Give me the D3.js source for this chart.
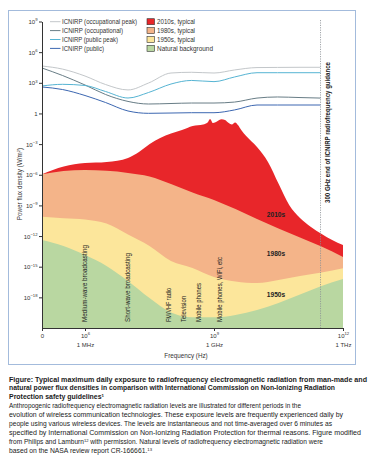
<!DOCTYPE html>
<html><head><meta charset="utf-8">
<script src="https://cdn.jsdelivr.net/npm/d3@7"></script>
<style>
html,body{margin:0;padding:0;background:#fff;}
svg{display:block;font-family:"Liberation Sans",Arial,sans-serif;}
</style></head><body>
<svg id="chart" width="369" height="466"></svg>
<script>
// ---------- data ----------
const icnirpFreq = [1e5,3e5,1e6,3e6,1e7,3e7,1e8,3e8,1e9,3e9,1e10,3e10,1e11,3e11];
const occPeak      = [4.4e4,2.2e4,4.6e3,680,200,950,9.1e3,1.07e4,9.1e3,1.8e4,3.1e4,3.2e4,3.3e4,3.3e4];
const occupational = [2.8e4,5.2e3,610,72,15,8.4,9.4,10.5,10.5,13,32,41,36,32];
const publicPeak   = [490,710,545,141,32.5,112,760,1.7e3,1.3e3,3.7e3,9.7e3,9.7e3,9.7e3,9.7e3];
const publicLimit  = [390,220,57,11.8,1.74,1.03,1.1,1.18,1.18,2.2,6.7,6.7,6.7,6.7];

const areaFreq = [1e5,3.16e5,1e6,3.16e6,1e7,3.16e7,1e8,3.16e8,1e9,3.16e9,1e10,3.16e10,1e11,3.16e11,1e12];
const typical1980s = [1.1e-6,2.3e-6,2.9e-6,2.4e-6,1.5e-6,6.7e-7,1.25e-7,1.8e-8,3.4e-9,4.4e-10,4.7e-11,5.5e-12,7.2e-13,9.5e-14,8.9e-15];
const typical1950s = [7.8e-11,5.6e-11,4.2e-11,1.7e-11,1.4e-12,1.06e-13,3.6e-15,7.5e-16,9.8e-17,3.6e-17,2.5e-17,5e-17,1.2e-16,2.7e-16,7e-16];
const naturalBg    = [4.1e-13,1.06e-13,1.4e-14,1.2e-15,4e-17,8.6e-19,3.3e-20,1.1e-20,1.1e-20,1.9e-20,5.8e-20,2.8e-19,1.9e-18,1.3e-17,6.2e-17];

const freq2010s = [1e5,3.2e5,1e6,3.2e6,1e7,1.8e7,3.2e7,5.6e7,1e8,1.8e8,3.2e8,5.6e8,7.1e8,8.1e8,9.5e8,1.17e9,1.5e9,1.8e9,2.2e9,2.6e9,3.1e9,3.6e9,4.3e9,5.6e9,1e10,1.8e10,3.2e10,5.6e10,1e11,1.8e11,3.2e11,5.6e11,1e12];
const typical2010s = [1.1e-6,6.4e-6,1.4e-5,1.8e-5,4.4e-5,1.7e-4,1.0e-3,4.0e-3,1.1e-2,2.4e-2,5.9e-2,8.3e-2,0.13,0.29,0.116,0.163,0.27,0.23,0.116,8.3e-2,0.13,7.4e-2,2.4e-2,6.2e-3,5.2e-4,1.8e-5,1.25e-7,1.1e-9,5.8e-11,7.7e-12,1.6e-12,4.1e-13,1.3e-13];

const yTicks = [1e9,1e6,1e3,1,1e-3,1e-6,1e-9,1e-12,1e-15,1e-18];
const xTicks = [1e5,1e6,1e9,1e12];
const xTickLabels = ["0","10|6","10|9","10|12"];
const xTickUnits = ["","1 MHz","1 GHz","1 THz"];
const guidanceFreq = 3e11;

const techLabels = ["Medium-wave broadcasting","Short-wave broadcasting","FM/VHF radio","Television","Mobile phones","Mobile phones, WiFi, etc"];
const techFreq = [1e6,1e7,9e7,2e8,4.5e8,1.4e9];

const lineSeries = [
  {name:"ICNIRP (occupational peak)", values:occPeak, color:"#c3c7ca"},
  {name:"ICNIRP (occupational)", values:occupational, color:"#687d86"},
  {name:"ICNIRP (public peak)", values:publicPeak, color:"#56b4d3"},
  {name:"ICNIRP (public)", values:publicLimit, color:"#3c67b1"}
];
const areaSeries = [
  {name:"2010s, typical", label:"2010s", freq:freq2010s, values:typical2010s, color:"#e8262a"},
  {name:"1980s, typical", label:"1980s", freq:areaFreq, values:typical1980s, color:"#f4b489"},
  {name:"1950s, typical", label:"1950s", freq:areaFreq, values:typical1950s, color:"#fce69b"},
  {name:"Natural background", label:null, freq:areaFreq, values:naturalBg, color:"#b9d7a1"}
];

// ---------- drawing ----------
const svg = d3.select("#chart");
svg.append("rect").attr("x",8.5).attr("y",10.5).attr("width",347).attr("height",354)
  .attr("fill","none").attr("stroke","#a3bbdc").attr("stroke-width",1);

const x = d3.scaleLog().domain([1e5,1e12]).range([42,343]);
const y = d3.scaleLog().domain([1e-21,1e9]).range([328,21.5]);
const y0 = y(1e-21);

// areas
areaSeries.forEach(s => {
  const pts = s.freq.map((f,i)=>[f,s.values[i]]);
  const area = d3.area().x(d=>x(d[0])).y0(y0).y1(d=>y(d[1])).curve(d3.curveMonotoneX);
  svg.append("path").datum(pts).attr("d",area).attr("fill",s.color);
});

// ICNIRP lines
lineSeries.forEach(s => {
  const pts = icnirpFreq.map((f,i)=>[f,s.values[i]]);
  const line = d3.line().x(d=>x(d[0])).y(d=>y(d[1])).curve(d3.curveMonotoneX);
  svg.append("path").datum(pts).attr("d",line).attr("fill","none").attr("stroke",s.color).attr("stroke-width",1);
});

// guidance line
svg.append("line").attr("x1",x(guidanceFreq)).attr("x2",x(guidanceFreq)).attr("y1",20).attr("y2",y0)
  .attr("stroke","#8a8f94").attr("stroke-width",0.8).attr("stroke-dasharray","1.2,1.2");
svg.append("text").attr("transform",`translate(${x(guidanceFreq)+9},203) rotate(-90)`)
  .attr("font-size",6.6).attr("font-weight","bold").attr("fill","#222")
  .attr("textLength",141).attr("lengthAdjust","spacingAndGlyphs")
  .text("300 GHz end of ICNIRP radiofrequency guidance");

// tech labels
const techLen = [77,69,34,26,39,65];
techLabels.forEach((t,i)=>{
  svg.append("text").attr("transform",`translate(${x(techFreq[i])+2.2},322) rotate(-90)`)
    .attr("font-size",6.3).attr("fill","#222")
    .attr("textLength",techLen[i]).attr("lengthAdjust","spacingAndGlyphs").text(t);
});

// era labels
const eraPos = [[276,217],[276,256],[276,297]];
areaSeries.forEach((s,i)=>{
  if(!s.label) return;
  svg.append("text").attr("x",eraPos[i][0]).attr("y",eraPos[i][1]).attr("text-anchor","middle")
    .attr("font-size",6.6).attr("font-weight","bold").attr("fill","#222").text(s.label);
});

// axes
const yAxis = d3.axisLeft(y).tickValues(yTicks).tickSize(3).tickSizeOuter(0).tickFormat(()=>"");
const gy = svg.append("g").attr("transform","translate(42,0)").call(yAxis);
gy.select(".domain").attr("stroke","#333");
gy.selectAll(".tick line").attr("stroke","#333");
gy.selectAll(".tick text").attr("font-size",6).attr("fill","#333").attr("x",-4.5).attr("dy","0.35em")
  .each(function(d){
    const t = d3.select(this);
    const e = Math.round(Math.log10(d));
    if(e===0){ t.text("1"); return; }
    t.append("tspan").text("10");
    t.append("tspan").attr("dy",-2.8).attr("font-size",4.2).text(String(e).replace("-","\u2212"));
  });

const xAxis = d3.axisBottom(x).tickValues(xTicks).tickSize(3).tickSizeOuter(0).tickFormat(()=>"");
const gx = svg.append("g").attr("transform",`translate(0,${y0})`).call(xAxis);
gx.select(".domain").attr("stroke","#333");
gx.selectAll(".tick line").attr("stroke","#333");
gx.selectAll(".tick text").attr("font-size",6).attr("fill","#333").attr("y",5.5).attr("dy","0.71em")
  .each(function(d,i){
    const t = d3.select(this);
    const parts = xTickLabels[i].split("|");
    t.append("tspan").text(parts[0]);
    if(parts[1]) t.append("tspan").attr("dy",-2.8).attr("font-size",4.2).text(parts[1]);
  });
gx.selectAll(".tick").append("text").attr("font-size",6).attr("fill","#333").attr("y",19).attr("text-anchor","middle")
  .text((d,i)=>xTickUnits[i]);

svg.append("text").attr("x",186).attr("y",358).attr("text-anchor","middle").attr("font-size",6.3).attr("fill","#333")
  .text("Frequency (Hz)");
const yt = svg.append("text").attr("transform","translate(22,184) rotate(-90)").attr("text-anchor","middle")
  .attr("font-size",6.3).attr("fill","#333");
yt.append("tspan").text("Power flux density (W/m");
yt.append("tspan").attr("dy",-2.5).attr("font-size",4.2).text("2");
yt.append("tspan").attr("dy",2.5).text(")");

// legends
const lLen = [75,61,56,42];
lineSeries.forEach((s,i)=>{
  const yy = 21.7 + i*8.9;
  svg.append("line").attr("x1",50).attr("x2",60.5).attr("y1",yy).attr("y2",yy).attr("stroke",s.color).attr("stroke-width",1);
  svg.append("text").attr("x",62).attr("y",yy+2.3).attr("font-size",6.5).attr("fill","#333")
    .attr("textLength",lLen[i]).attr("lengthAdjust","spacingAndGlyphs").text(s.name);
});
const rLen = [38,38,38,56];
areaSeries.forEach((s,i)=>{
  const yy = 21.7 + i*8.9;
  svg.append("rect").attr("x",147).attr("y",yy-3).attr("width",7.5).attr("height",6)
    .attr("fill",s.color).attr("stroke","#333").attr("stroke-width",0.6);
  svg.append("text").attr("x",157).attr("y",yy+2.3).attr("font-size",6.5).attr("fill","#333")
    .attr("textLength",rLen[i]).attr("lengthAdjust","spacingAndGlyphs").text(s.name);
});

// caption
const captionLines = [
  {t:"Figure: Typical maximum daily exposure to radiofrequency electromagnetic radiation from man-made and", b:true, w:358},
  {t:"natural power flux densities in comparison with International Commission on Non-Ionizing Radiation", b:true, w:326},
  {t:"Protection safety guidelines", sup:"1", b:true, w:95},
  {t:"Anthropogenic radiofrequency electromagnetic radiation levels are illustrated for different periods in the", w:292},
  {t:"evolution of wireless communication technologies. These exposure levels are frequently experienced daily by", w:334},
  {t:"people using various wireless devices. The levels are instantaneous and not time-averaged over 6 minutes as", w:323},
  {t:"specified by International Commission on Non-Ionizing Radiation Protection for thermal reasons. Figure modified", w:352},
  {t:"from Philips and Lamburn", sup:"12", rest:" with permission. Natural levels of radiofrequency electromagnetic radiation were", w:314},
  {t:"based on the NASA review report CR-166661.", sup:"13", w:143}
];
captionLines.forEach((c,i)=>{
  const t = svg.append("text").attr("x",9).attr("y",381.5+i*8.95).attr("font-size",6.4).attr("fill","#1a1a1a")
    .attr("font-weight",c.b?"bold":"normal").attr("textLength",c.w).attr("lengthAdjust","spacingAndGlyphs");
  t.append("tspan").text(c.t);
  if(c.sup){
    t.append("tspan").attr("dy",-2.3).attr("font-size",4).text(c.sup);
    if(c.rest) t.append("tspan").attr("dy",2.3).text(c.rest);
  }
});
</script>
</body></html>
